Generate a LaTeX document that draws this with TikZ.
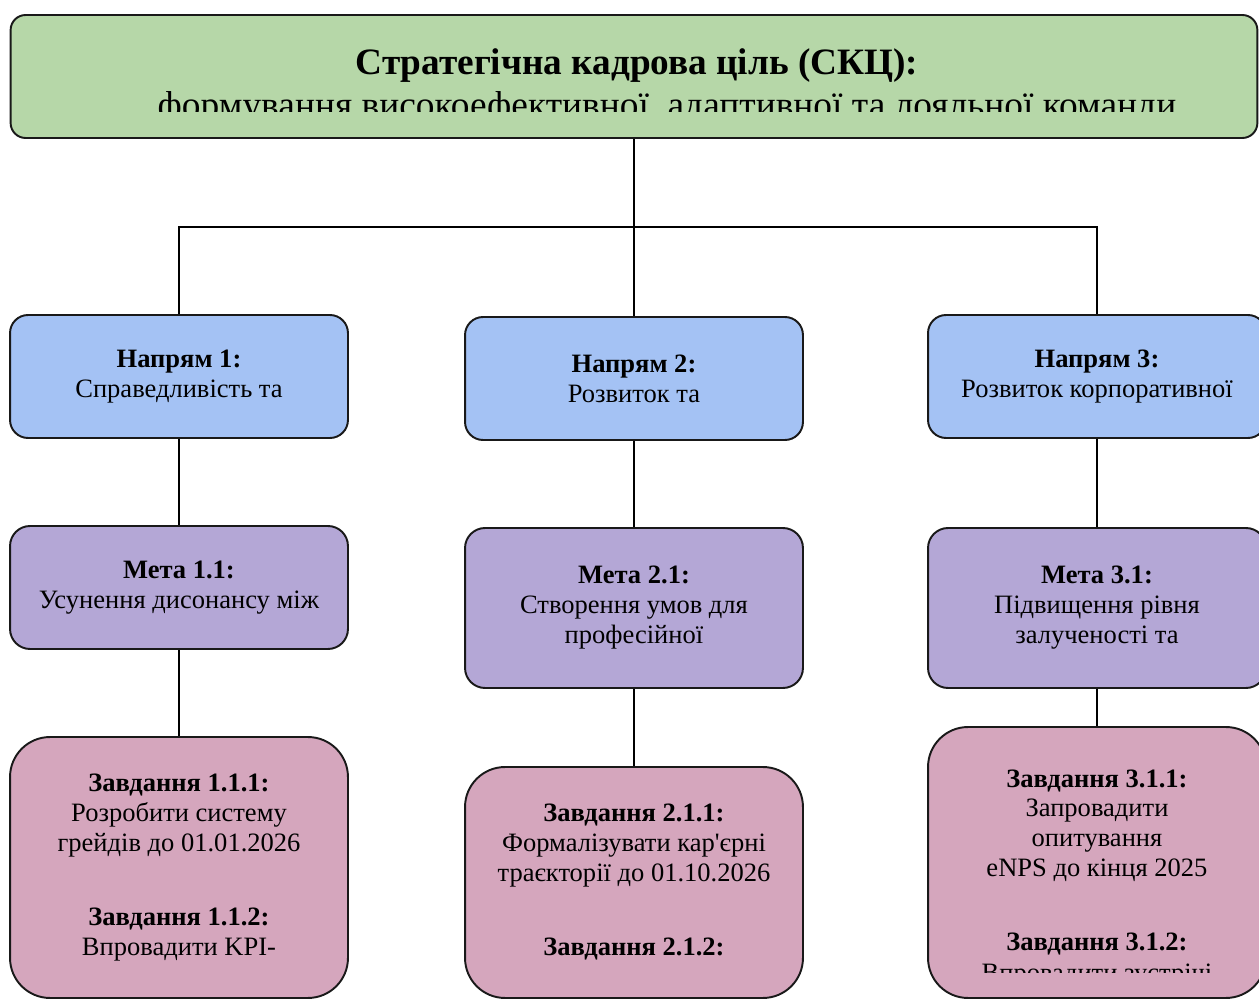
\documentclass[tikz,border=0pt]{standalone}
\usepackage{fontspec}
\setmainfont{Liberation Serif}[Ligatures=TeXOff]
\usetikzlibrary{positioning}
\definecolor{skcgreen}{HTML}{B6D7A8}
\definecolor{dirblue}{HTML}{A4C2F4}
\definecolor{aimviolet}{HTML}{B4A7D6}
\definecolor{taskpink}{HTML}{D5A6BD}

\begin{document}
\begin{tikzpicture}[x=0.02cm,y=-0.02cm,
	box/.style={draw=black!90,line width=1.1pt,align=center,inner sep=2pt,
		minimum width=6.76cm,font=\fontsize{15.1}{17.07}\selectfont},
	skcbox/.style={box,fill=skcgreen,rounded corners=0.3cm},
	dirbox/.style={box,fill=dirblue,rounded corners=0.36cm,minimum height=2.46cm},
	aimbox/.style={box,fill=aimviolet,rounded corners=0.4cm},
	taskbox/.style={box,fill=taskpink,rounded corners=0.8cm},
	link/.style={draw=black,line width=0.8pt}]
	\useasboundingbox (0,0) rectangle (1259,1000);
	\clip (0,0) rectangle (1259,1000);

	% strategic goal
	\node[skcbox,minimum width=24.94cm,minimum height=2.46cm] (skc) at (634,76.5) {};
	\node[anchor=base,font=\fontsize{21.2}{24}\selectfont\bfseries] (skctitle) at (637,75) {Стратегічна кадрова ціль (СКЦ):};
	\begin{scope}
		\clip (12,88) rectangle (1255,112);
		\node[anchor=base,font=\fontsize{21.3}{24}\selectfont] (skcsub) at (667,118) {формування високоефективної, адаптивної та лояльної команди};
	\end{scope}

	% directions
	\node[dirbox] (dir1) at (179,376.5) {\textbf{Напрям 1:}\\Справедливість та};
	\node[dirbox] (dir2) at (634,378.5) {\textbf{Напрям 2:}\\Розвиток та};
	\node[dirbox] (dir3) at (1097,376.5) {\textbf{Напрям 3:}\\Розвиток корпоративної};

	% aims
	\node[aimbox,minimum height=2.46cm] (aim1) at (179,587.5) {\textbf{Мета 1.1:}\\Усунення дисонансу між};
	\node[aimbox,minimum height=3.2cm] (aim2) at (634,608) {\textbf{Мета 2.1:}\\Створення умов для\\професійної};
	\node[aimbox,minimum height=3.2cm] (aim3) at (1097,608) {\textbf{Мета 3.1:}\\Підвищення рівня\\залученості та};

	% tasks
	\node[taskbox,minimum height=5.22cm] (task1) at (179,867.5) {\textbf{Завдання 1.1.1:}\\Розробити систему\\грейдів до 01.01.2026\\[0.88cm]\textbf{Завдання 1.1.2:}\\Впровадити KPI-};
	\node[taskbox,minimum height=4.62cm] (task2) at (634,882.5) {\textbf{Завдання 2.1.1:}\\Формалізувати кар'єрні\\траєкторії до 01.10.2026\\[0.88cm]\textbf{Завдання 2.1.2:}};
	\node[taskbox,minimum height=5.42cm] (task3) at (1097,862.5) {\textbf{Завдання 3.1.1:}\\Запровадити\\опитування\\eNPS до кінця 2025\\[0.88cm]\textbf{Завдання 3.1.2:}};
	\begin{scope}
		\clip (940,955) rectangle (1255,972);
		\node[anchor=base,font=\fontsize{15.1}{17.07}\selectfont] (task3cut) at (1097,981.5) {Впровадити зустрічі};
	\end{scope}

	% connectors
	\coordinate (fork) at (634,227);
	\draw[link] (skc.south) -- (dir2.north);
	\draw[link] (dir1.north) |- (fork) -| (dir3.north);
	\foreach \i in {1,2,3} {
		\draw[link] (dir\i) -- (aim\i);
		\draw[link] (aim\i) -- (task\i);
	}
\end{tikzpicture}
\end{document}
